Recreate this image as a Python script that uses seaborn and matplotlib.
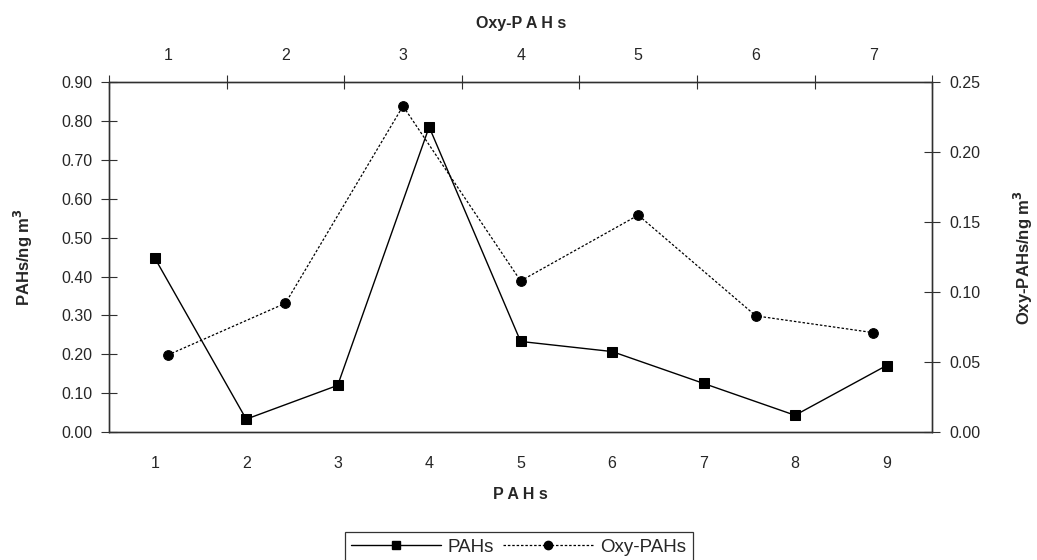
import numpy as np
import matplotlib
matplotlib.use('Agg')
import matplotlib.pyplot as plt
import seaborn as sns
from matplotlib.lines import Line2D

# values
pahs_labels = ['1', '2', '3', '4', '5', '6', '7', '8', '9']
pahs_values = [0.448, 0.033, 0.120, 0.785, 0.233, 0.207, 0.125, 0.043, 0.171]

oxy_labels = ['1', '2', '3', '4', '5', '6', '7']
oxy_values = [0.055, 0.092, 0.233, 0.108, 0.155, 0.083, 0.071]

sns.set_style('white')
plt.rcParams['font.family'] = ['Liberation Sans', 'DejaVu Sans']

fig = plt.figure(figsize=(10.37, 5.6), dpi=100)
ax = fig.add_axes([0.1051, 0.2286, 0.7939, 0.6245])
ax2 = ax.twinx()
ax3 = ax2.twiny()

# category positions: centres of the bins between the integer ticks
x_pahs = np.arange(len(pahs_values)) + 0.5
x_oxy = np.arange(len(oxy_values)) + 0.5

sns.lineplot(x=x_pahs, y=pahs_values, ax=ax, color='black', linewidth=1.0,
             marker='s', markersize=7.5, markeredgecolor='black', sort=False)
sns.lineplot(x=x_oxy, y=oxy_values, ax=ax3, color='black', linewidth=0.9,
             linestyle=(0, (2, 1.5)), marker='o', markersize=7,
             markeredgecolor='black', sort=False)

tick_fs = 11.5
grey = '#303030'

# left y axis
ax.set_xlim(0, len(pahs_values))
ax.set_ylim(0, 0.9)
ax.set_yticks(np.arange(0, 0.91, 0.1))
ax.set_yticklabels(['%.2f' % v for v in np.arange(0, 0.91, 0.1)])
ax.set_xticks(np.arange(0, len(pahs_values) + 1))
ax.set_xticklabels([])
ax.set_xticks(x_pahs, minor=True)
ax.set_xticklabels(pahs_labels, minor=True)
ax.tick_params(axis='x', which='major', direction='inout', length=10, width=0.8, color=grey)
ax.tick_params(axis='x', which='minor', length=0, pad=17, labelsize=tick_fs)
ax.tick_params(axis='y', direction='inout', length=12, width=0.8, color=grey, labelsize=tick_fs, pad=6)
ax.set_xlabel('P A H s', fontsize=11.5, fontweight='bold', labelpad=12)
ax.set_ylabel('PAHs/ng m$\\mathbf{^3}$', fontsize=12, fontweight='bold', labelpad=19)

# right y axis
ax2.set_ylim(0, 0.25)
ax2.set_yticks(np.arange(0, 0.251, 0.05))
ax2.set_yticklabels(['%.2f' % v for v in np.arange(0, 0.251, 0.05)])
ax2.tick_params(axis='y', direction='inout', length=12, width=0.8, color=grey, labelsize=tick_fs, pad=6)
ax2.set_ylabel('Oxy-PAHs/ng m$\\mathbf{^3}$', fontsize=12, fontweight='bold', labelpad=23)

# top x axis
ax3.set_xlim(0, len(oxy_values))
ax3.set_ylim(0, 0.25)
ax3.set_xticks(np.arange(0, len(oxy_values) + 1))
ax3.set_xticklabels([])
ax3.set_xticks(x_oxy, minor=True)
ax3.set_xticklabels(oxy_labels, minor=True)
ax3.tick_params(axis='x', which='major', direction='inout', length=10, width=0.8, color=grey)
ax3.tick_params(axis='x', which='minor', length=0, pad=14, labelsize=tick_fs)
ax3.set_xlabel('Oxy-P A H s', fontsize=11.5, fontweight='bold', labelpad=14)

for a in (ax, ax2, ax3):
    for side in ['left', 'right', 'top', 'bottom']:
        a.spines[side].set_color(grey)
        a.spines[side].set_linewidth(0.9)
    a.grid(False)

handles = [
    Line2D([], [], color='black', linewidth=1.0, marker='s', markersize=6),
    Line2D([], [], color='black', linewidth=0.9, linestyle=(0, (2, 1.5)), marker='o', markersize=6),
]
leg = fig.legend(handles, ['PAHs', 'Oxy-PAHs'], loc='upper center',
                 bbox_to_anchor=(0.5, 0.05), ncol=2, fontsize=13.5,
                 handlelength=4.8, handletextpad=0.35, columnspacing=0.5,
                 frameon=True, fancybox=False, edgecolor='black',
                 borderpad=0.35, borderaxespad=0)
leg.get_frame().set_linewidth(0.9)

fig.savefig('out.png', dpi=100)
